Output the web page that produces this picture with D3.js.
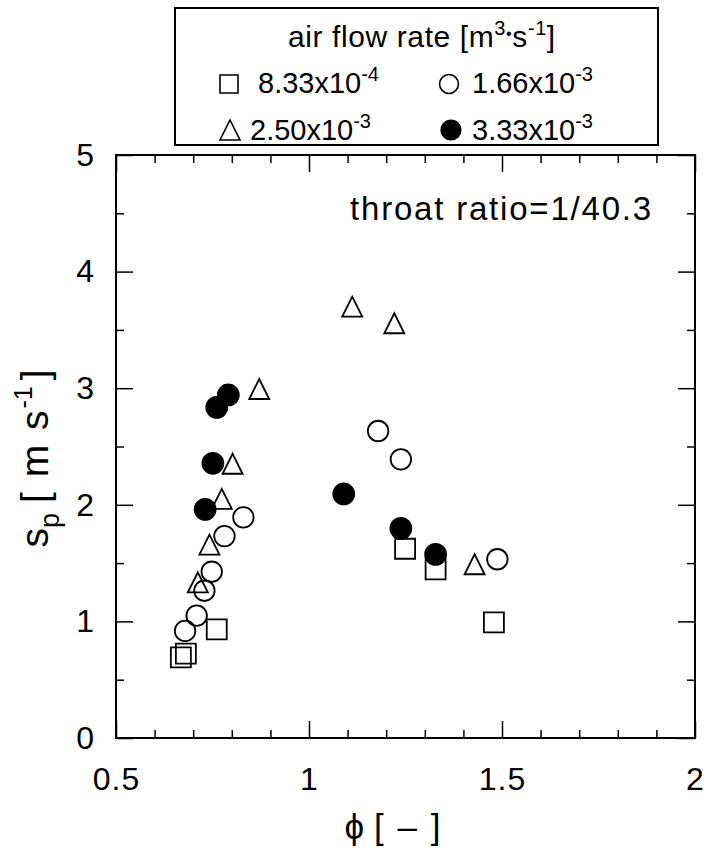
<!DOCTYPE html>
<html>
<head>
<meta charset="utf-8">
<script src="https://cdn.jsdelivr.net/npm/d3@7"></script>
<style>
  body { margin: 0; background: #fff; }
  svg text { font-family: "Liberation Sans", Arial, Helvetica, sans-serif; fill: #000; }
</style>
</head>
<body>
<div id="chart"></div>
<script>
// ---- data ----
// air flow rate 8.33x10^-4 (open squares)
const phiSquare = [0.668, 0.681, 0.761, 1.249, 1.328, 1.479];
const spSquare  = [0.692, 0.723, 0.932, 1.623, 1.447, 0.992];
// air flow rate 1.66x10^-3 (open circles)
const phiCircle = [0.679, 0.709, 0.729, 0.748, 0.781, 0.830, 1.179, 1.238, 1.488];
const spCircle  = [0.918, 1.049, 1.263, 1.426, 1.732, 1.893, 2.633, 2.390, 1.533];
// air flow rate 2.50x10^-3 (open triangles)
const phiTriangle = [0.712, 0.742, 0.774, 0.802, 0.871, 1.112, 1.221, 1.429];
const spTriangle  = [1.335, 1.658, 2.050, 2.352, 2.993, 3.699, 3.557, 1.490];
// air flow rate 3.33x10^-3 (filled circles)
const phiFilled = [0.731, 0.751, 0.761, 0.791, 1.090, 1.238, 1.328];
const spFilled  = [1.961, 2.356, 2.836, 2.942, 2.093, 1.798, 1.575];

const xTicks = [0.5, 1, 1.5, 2];
const xTickLabels = ["0.5", "1", "1.5", "2"];
const yTicks = [0, 1, 2, 3, 4, 5];
const xMinorTicks = [0.6, 0.7, 0.8, 0.9, 1.1, 1.2, 1.3, 1.4, 1.6, 1.7, 1.8, 1.9];
const yMinorTicks = [0.5, 1.5, 2.5, 3.5, 4.5];

const seriesNames = ["8.33x10", "1.66x10", "2.50x10", "3.33x10"];
const seriesExp = ["-4", "-3", "-3", "-3"];

// ---- layout ----
const W = 709, H = 854;
const margin = {top: 155, right: 14, bottom: 116, left: 116};
const width = W - margin.left - margin.right;
const height = H - margin.top - margin.bottom;

const svg = d3.select("#chart").append("svg")
    .attr("width", W)
    .attr("height", H);

const g = svg.append("g")
    .attr("transform", `translate(${margin.left},${margin.top})`);

const x = d3.scaleLinear().domain([0.5, 2]).range([0, width]);
const y = d3.scaleLinear().domain([0, 5]).range([height, 0]);

// custom triangle centered on its bounding box
const triangleBox = {
    draw(context, size) {
        const s = Math.sqrt(size);
        context.moveTo(0, -s / 2);
        context.lineTo(s * 0.5, s / 2);
        context.lineTo(-s * 0.5, s / 2);
        context.closePath();
    }
};

// ---- axes (ticks pointing inward on all four sides) ----
function styleAxis(sel) {
    sel.select(".domain").remove();
    sel.selectAll(".tick line").attr("stroke", "#000").attr("stroke-width", 1.5);
    sel.selectAll(".tick text")
        .style("font-size", "32px")
        .style("letter-spacing", "1px")
        .attr("fill", "#000");
}

g.append("g")
    .attr("transform", `translate(0,${height})`)
    .call(d3.axisBottom(x).tickValues(xTicks).tickFormat((d, i) => xTickLabels[i])
        .tickSizeInner(-17).tickSizeOuter(0).tickPadding(29))
    .call(styleAxis);
g.append("g")
    .attr("transform", `translate(0,${height})`)
    .call(d3.axisBottom(x).tickValues(xMinorTicks).tickFormat("").tickSizeInner(-8).tickSizeOuter(0))
    .call(styleAxis);
g.append("g")
    .call(d3.axisTop(x).tickValues(xTicks).tickFormat("").tickSizeInner(-17).tickSizeOuter(0))
    .call(styleAxis);
g.append("g")
    .call(d3.axisTop(x).tickValues(xMinorTicks).tickFormat("").tickSizeInner(-8).tickSizeOuter(0))
    .call(styleAxis);

g.append("g")
    .call(d3.axisLeft(y).tickValues(yTicks).tickFormat(d3.format("d"))
        .tickSizeInner(-17).tickSizeOuter(0).tickPadding(21))
    .call(styleAxis);
g.append("g")
    .call(d3.axisLeft(y).tickValues(yMinorTicks).tickFormat("").tickSizeInner(-8).tickSizeOuter(0))
    .call(styleAxis);
g.append("g")
    .attr("transform", `translate(${width},0)`)
    .call(d3.axisRight(y).tickValues(yTicks).tickFormat("").tickSizeInner(-17).tickSizeOuter(0))
    .call(styleAxis);
g.append("g")
    .attr("transform", `translate(${width},0)`)
    .call(d3.axisRight(y).tickValues(yMinorTicks).tickFormat("").tickSizeInner(-8).tickSizeOuter(0))
    .call(styleAxis);

// frame
g.append("rect")
    .attr("width", width)
    .attr("height", height)
    .attr("fill", "none")
    .attr("stroke", "#000")
    .attr("stroke-width", 2);

// ---- axis titles ----
const xLabel = g.append("text")
    .attr("x", width / 2 - 12)
    .attr("y", height + 101)
    .attr("text-anchor", "middle")
    .style("font-size", "35px");
xLabel.append("tspan").text("\u03D5");
xLabel.append("tspan").attr("dx", 10).style("letter-spacing", "2px").text("[ \u2013 ]");

const yLabel = svg.append("text")
    .attr("transform", `translate(48,${margin.top + height / 2 + 12}) rotate(-90)`)
    .attr("text-anchor", "middle")
    .style("font-size", "39px");
yLabel.append("tspan").text("s");
yLabel.append("tspan").attr("dy", 11).style("font-size", "27px").text("p");
yLabel.append("tspan").attr("dy", -11).attr("dx", 10).style("letter-spacing", "2px").text("[ m s");
yLabel.append("tspan").attr("dy", -16).style("font-size", "25px").text("-1");
yLabel.append("tspan").attr("dy", 16).attr("dx", 6).text("]");

// annotation
g.append("text")
    .attr("x", width - 42)
    .attr("y", 65)
    .attr("text-anchor", "end")
    .style("font-size", "33px")
    .style("letter-spacing", "1.8px")
    .text("throat ratio=1/40.3");

// ---- markers ----
const markerStroke = 1.8;

function drawSeries(phi, sp, type, size, fill) {
    g.append("g").selectAll("path")
        .data(phi.map((p, i) => ({phi: p, sp: sp[i]})))
        .enter().append("path")
        .attr("d", d3.symbol().type(type).size(size))
        .attr("transform", d => `translate(${x(d.phi)},${y(d.sp)})`)
        .attr("fill", fill)
        .attr("stroke", "#000")
        .attr("stroke-width", markerStroke);
}

drawSeries(phiTriangle, spTriangle, triangleBox, 400, "none");
drawSeries(phiCircle, spCircle, d3.symbolCircle, 330, "none");
drawSeries(phiSquare, spSquare, d3.symbolSquare, 400, "none");
drawSeries(phiFilled, spFilled, d3.symbolCircle, 346, "#000");

// ---- legend ----
const legend = svg.append("g");
legend.append("rect")
    .attr("x", 175).attr("y", 8)
    .attr("width", 483).attr("height", 137)
    .attr("fill", "#fff")
    .attr("stroke", "#000")
    .attr("stroke-width", 2);

const title = legend.append("text")
    .attr("x", 288).attr("y", 47)
    .style("font-size", "30px")
    .style("letter-spacing", "0.6px");
title.append("tspan").text("air flow rate [m");
title.append("tspan").attr("dy", -12).style("font-size", "20px").text("3");
title.append("tspan").attr("dy", 4).style("font-size", "16px").text("\u2022");
title.append("tspan").attr("dy", 8).text("s");
title.append("tspan").attr("dy", -12).style("font-size", "20px").text("-1");
title.append("tspan").attr("dy", 12).text("]");

const legendItems = [
    {type: d3.symbolSquare, size: 324, fill: "none", mx: 229, my: 84, tx: 258, ty: 93},
    {type: d3.symbolCircle, size: 280, fill: "none", mx: 449, my: 84, tx: 472, ty: 93},
    {type: triangleBox, size: 400, fill: "none", mx: 230, my: 130, tx: 250, ty: 140},
    {type: d3.symbolCircle, size: 300, fill: "#000", mx: 451, my: 130, tx: 472, ty: 140}
];

legendItems.forEach((it, i) => {
    legend.append("path")
        .attr("d", d3.symbol().type(it.type).size(it.size))
        .attr("transform", `translate(${it.mx},${it.my})`)
        .attr("fill", it.fill)
        .attr("stroke", "#000")
        .attr("stroke-width", 1.6);
    const t = legend.append("text")
        .attr("x", it.tx).attr("y", it.ty)
        .style("font-size", "29px");
    t.append("tspan").text(seriesNames[i]);
    t.append("tspan").attr("dy", -12).style("font-size", "20px").text(seriesExp[i]);
});
</script>
</body>
</html>
